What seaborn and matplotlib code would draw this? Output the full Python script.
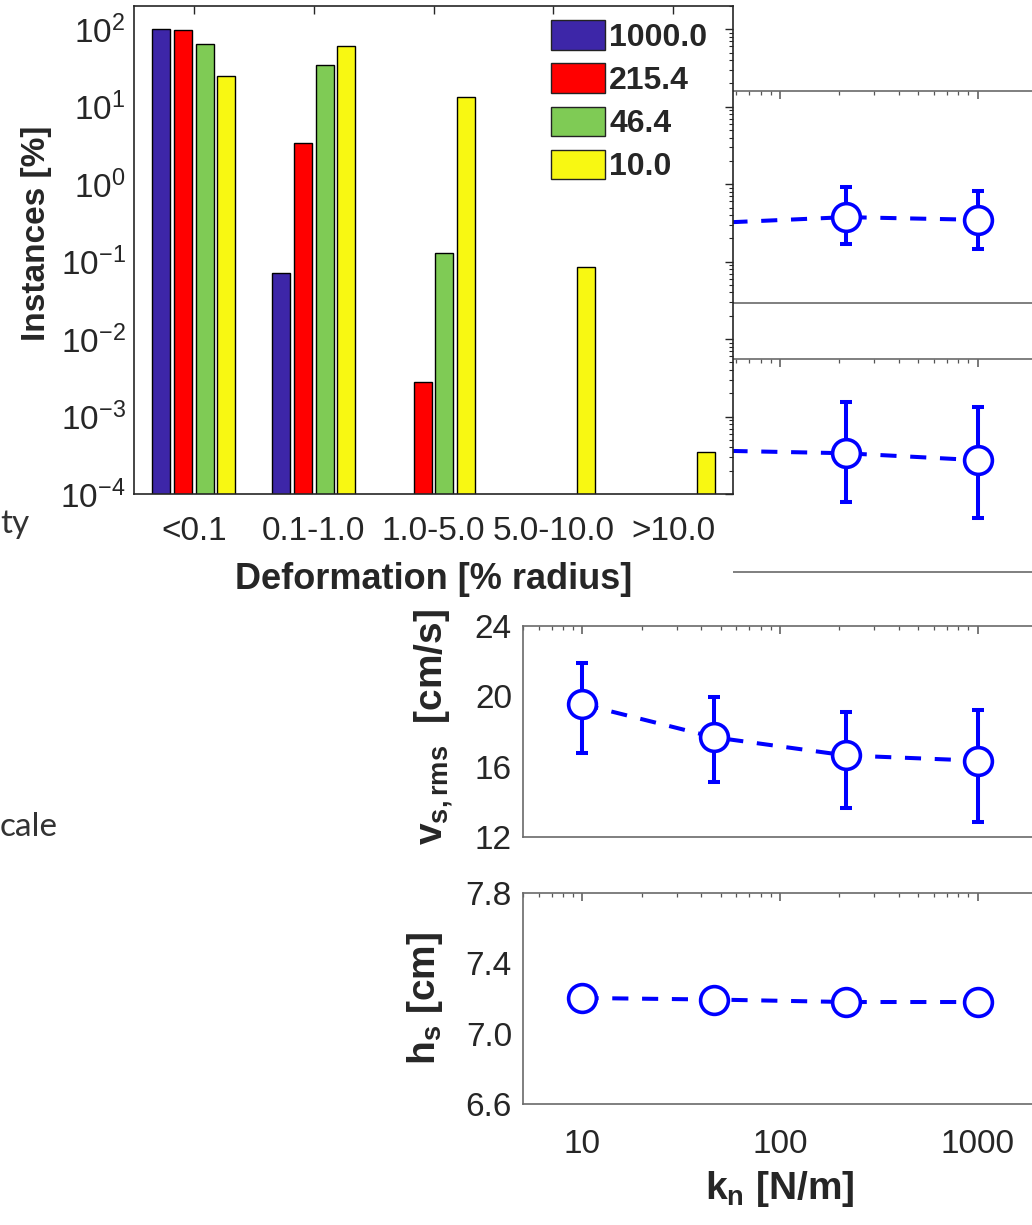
import numpy as np
import pandas as pd
import matplotlib
matplotlib.use("Agg")
import matplotlib.pyplot as plt
import seaborn as sns
from matplotlib.patches import Rectangle, Patch
from matplotlib.ticker import LogLocator, NullFormatter, FixedLocator, FixedFormatter

sns.set_theme(style="white")
plt.rcParams["font.family"] = ["Liberation Sans", "DejaVu Sans"]
plt.rcParams["mathtext.fontset"] = "custom"
plt.rcParams["mathtext.rm"] = "Liberation Sans"
plt.rcParams["mathtext.bf"] = "Liberation Sans:bold"
plt.rcParams["mathtext.it"] = "Liberation Sans:italic"

# ---------------- data ----------------
deform_bins = ["<0.1", "0.1-1.0", "1.0-5.0", "5.0-10.0", ">10.0"]
stiffness_labels = ["1000.0", "215.4", "46.4", "10.0"]
inst_k1000 = [99.93, 0.072, 0.0, 0.0, 0.0]
inst_k215 = [96.6, 3.45, 0.0028, 0.0, 0.0]
inst_k46 = [65.0, 35.0, 0.13, 0.0, 0.0]
inst_k10 = [25.0, 61.0, 13.5, 0.085, 0.00035]
bar_colors = ["#3D26A8", "#FF0000", "#7FCB55", "#F8F812"]

kn = [10.0, 46.4, 215.4, 1000.0]
# upper two panels (their y axes are hidden behind the inset; arbitrary units)
p1_mean = [1.45, 1.51, 1.62, 1.57]
p1_lo = [0.95, 1.00, 1.11, 1.02]
p1_hi = [2.00, 2.05, 2.19, 2.11]
p2_mean = [2.30, 2.28, 2.23, 2.10]
p2_lo = [1.40, 1.35, 1.31, 1.01]
p2_hi = [3.20, 3.20, 3.19, 3.10]
vs_mean = [19.55, 17.67, 16.64, 16.34]
vs_lo = [16.77, 15.11, 13.67, 12.88]
vs_hi = [21.92, 19.95, 19.10, 19.24]
hs_mean = [7.203, 7.194, 7.180, 7.180]

x_ticks = [10, 100, 1000]
x_ticklabels = ["10", "100", "1000"]
vs_ticks = [12, 16, 20, 24]
hs_ticks = [6.6, 7.0, 7.4, 7.8]

# ---------------- layout ----------------
W, H = 1032, 1225
fig = plt.figure(figsize=(W / 100, H / 100), dpi=100)
fig.patch.set_facecolor("white")


def rect(l, t, r, b):
    return [l / W, 1 - b / H, (r - l) / W, (b - t) / H]


BLUE = "#0000FF"
TXT = "#262626"

panel_px = [(91, 303), (359, 572), (626, 837), (893, 1104)]
panels = []
for (t, b) in panel_px:
    ax = fig.add_axes(rect(523, t, 1037, b))
    ax.set_zorder(0)
    panels.append(ax)


def draw_panel(ax, mean, lo=None, hi=None):
    ax.set_xscale("log")
    if lo is not None:
        m = np.asarray(mean)
        ax.errorbar(kn, mean, yerr=[m - np.asarray(lo), np.asarray(hi) - m],
                    fmt="none", ecolor=BLUE, elinewidth=2.9, capsize=4.5,
                    capthick=2.9, zorder=2)
    df = pd.DataFrame({"kn": kn, "val": mean})
    sns.lineplot(data=df, x="kn", y="val", ax=ax, color=BLUE, linewidth=2.9,
                 linestyle=(0, (4.0, 3.4)), marker="o", markersize=20,
                 markerfacecolor="white", markeredgecolor=BLUE,
                 markeredgewidth=2.6, zorder=3)
    ax.set_xlim(5, 2000)
    ax.set_xlabel("")
    ax.set_ylabel("")
    ax.xaxis.set_major_locator(FixedLocator(x_ticks))
    ax.xaxis.set_minor_locator(LogLocator(base=10, subs=np.arange(2, 10), numticks=20))
    ax.xaxis.set_minor_formatter(NullFormatter())
    ax.tick_params(which="both", direction="in", top=True, right=False,
                   color="#555555", labelcolor=TXT, labelsize=24)
    ax.tick_params(which="major", length=6, width=1.1)
    ax.tick_params(which="minor", length=3, width=0.9)
    ax.tick_params(axis="y", pad=8)
    ax.tick_params(axis="x", pad=18)
    for s in ax.spines.values():
        s.set_color("#6a6a6a")
        s.set_linewidth(1.2)
        s.set_visible(True)
    ax.set_facecolor("white")


draw_panel(panels[0], p1_mean, p1_lo, p1_hi)
panels[0].set_ylim(0, 4)
draw_panel(panels[1], p2_mean, p2_lo, p2_hi)
panels[1].set_ylim(0, 4)
draw_panel(panels[2], vs_mean, vs_lo, vs_hi)
panels[2].set_ylim(12, 24)
panels[2].set_yticks(vs_ticks)
panels[2].set_yticklabels([str(v) for v in vs_ticks])
draw_panel(panels[3], hs_mean)
panels[3].set_ylim(6.6, 7.8)
panels[3].set_yticks(hs_ticks)
panels[3].set_yticklabels([f"{v:.1f}" for v in hs_ticks])

for ax in panels[:2]:
    ax.tick_params(axis="y", labelleft=False)
for ax in panels[:3]:
    ax.tick_params(axis="x", labelbottom=False)
panels[3].xaxis.set_major_formatter(FixedFormatter(x_ticklabels))

panels[2].set_ylabel(r"$\mathbf{v}_{\mathbf{s,rms}}$  [cm/s]", fontsize=28,
                     fontweight="bold", color=TXT)
panels[2].yaxis.set_label_coords(-0.13, 0.52)
panels[3].set_ylabel(r"$\mathbf{h}_{\mathbf{s}}$ [cm]", fontsize=28,
                     fontweight="bold", color=TXT)
panels[3].yaxis.set_label_coords(-0.152, 0.5)
panels[3].set_xlabel(r"$\mathbf{k}_{\mathbf{n}}$ [N/m]", fontsize=28,
                     fontweight="bold", color=TXT)
panels[3].xaxis.set_label_coords(0.5, -0.31)

# white cover of the inset figure
fig.add_artist(Rectangle((0, 1 - 600 / H), 733 / W, 600 / H,
                         transform=fig.transFigure, facecolor="white",
                         edgecolor="none", zorder=1))

# ---------------- inset bar chart ----------------
axb = fig.add_axes(rect(134, 6, 733, 494))
axb.set_zorder(2)
axb.set_facecolor("white")
rows = []
for lab, vals in zip(stiffness_labels, [inst_k1000, inst_k215, inst_k46, inst_k10]):
    for cat, v in zip(deform_bins, vals):
        if v > 0:
            rows.append({"bin": cat, "k": lab, "pct": v})
dfb = pd.DataFrame(rows)
axb.set_yscale("log")
sns.barplot(data=dfb, x="bin", y="pct", hue="k", order=deform_bins,
            hue_order=stiffness_labels, palette=bar_colors, width=0.725,
            gap=0.17, edgecolor="black", linewidth=1.0, errorbar=None,
            saturation=1, ax=axb, legend=False)
axb.set_ylim(1e-4, 200)
axb.set_xlim(-0.5, 4.5)
axb.yaxis.set_major_locator(LogLocator(base=10, numticks=20))
axb.yaxis.set_minor_locator(LogLocator(base=10, subs=np.arange(2, 10), numticks=100))
axb.yaxis.set_minor_formatter(NullFormatter())
axb.tick_params(which="both", direction="in", top=True, right=True,
                color="#262626", labelcolor=TXT, labelsize=24)
axb.tick_params(which="major", length=6, width=1.0)
axb.tick_params(which="minor", length=3, width=0.8)
axb.tick_params(axis="x", pad=16)
axb.tick_params(axis="y", pad=6)
for s in axb.spines.values():
    s.set_color("#262626")
    s.set_linewidth(1.2)
    s.set_visible(True)
axb.set_xlabel("Deformation [% radius]", fontsize=26, fontweight="bold", color=TXT)
axb.xaxis.set_label_coords(0.5, -0.14)
axb.set_ylabel("Instances [%]", fontsize=24, fontweight="bold", color=TXT)
axb.yaxis.set_label_coords(-0.137, 0.535)

handles = [Patch(facecolor=c, edgecolor="#222222", linewidth=1.0) for c in bar_colors]
axb.legend(handles, stiffness_labels, loc="upper left",
           bbox_to_anchor=(551 / W, 1 - 20 / H), bbox_transform=fig.transFigure,
           frameon=False, prop={"weight": "bold", "size": 23},
           handlelength=1.7, handleheight=1.05, labelspacing=0.33,
           handletextpad=0.12, borderpad=0, borderaxespad=0)

# cut-off slide text on the left
fig.text(0.0, 1 - 533 / H, "ty", fontsize=24, family=["Lato", "DejaVu Sans"],
         color="#333333", ha="left", va="baseline", zorder=5)
fig.text(0.0, 1 - 836 / H, "cale", fontsize=24, family=["Lato", "DejaVu Sans"],
         color="#333333", ha="left", va="baseline", zorder=5)

fig.savefig("out.png", dpi=100, facecolor="white")
